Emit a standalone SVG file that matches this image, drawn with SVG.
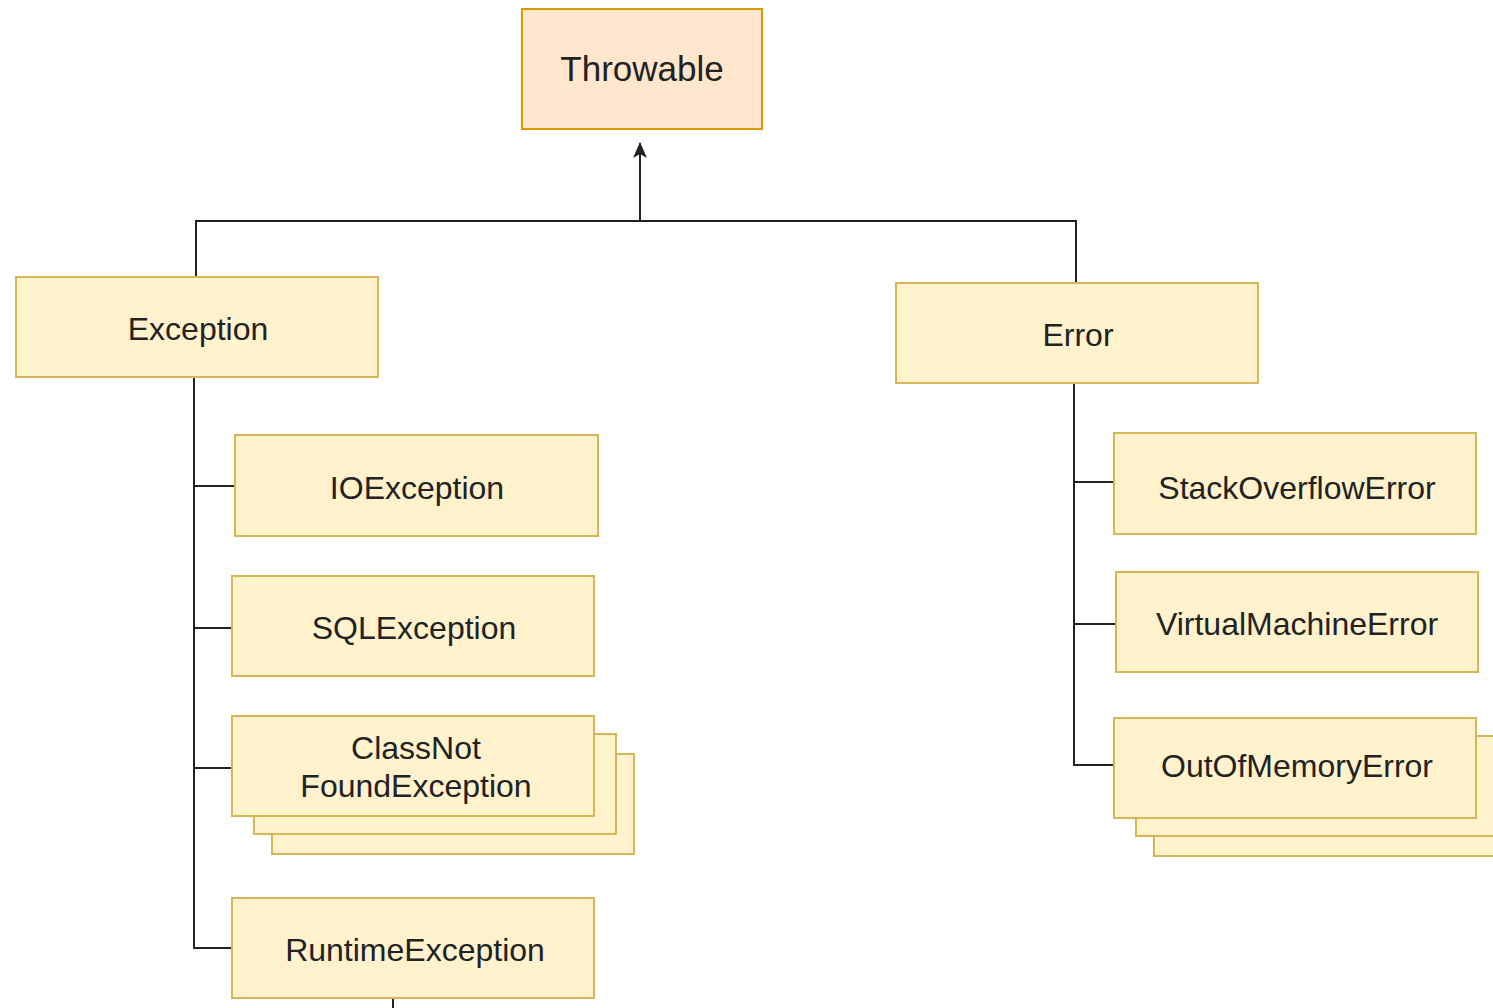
<svg xmlns="http://www.w3.org/2000/svg" width="1493" height="1008" viewBox="0 0 1493 1008">
  <style>
    .box { fill: #fff2cc; stroke: #d6b656; stroke-width: 2; }
    .root { fill: #ffe6cc; stroke: #d79b00; stroke-width: 2; }
    .lbl { font-family: "Liberation Sans", Arial, sans-serif; font-size: 32px; fill: #222; text-anchor: middle; }
    .edge { fill: none; stroke: #222; stroke-width: 2; }
  </style>
  <defs>
    <!-- classic notched arrowhead, sized in user units -->
    <marker id="arrow" viewBox="0 0 16 14" refX="15" refY="7" markerWidth="16" markerHeight="14" markerUnits="userSpaceOnUse" orient="auto">
      <path d="M0,0 L16,7 L0,14 L4,7 Z" fill="#222"/>
    </marker>
  </defs>
  <rect width="1493" height="1008" fill="#ffffff"/>

  <g id="connectors">
    <path class="edge" d="M640,221 V143" marker-end="url(#arrow)"/>
    <path class="edge" d="M196,277 V221 H1076 V283"/>
    <path class="edge" d="M194,377 V948 H232"/>
    <path class="edge" d="M194,486 H235"/>
    <path class="edge" d="M194,628 H232"/>
    <path class="edge" d="M194,768 H232"/>
    <path class="edge" d="M1074,383 V765 H1114"/>
    <path class="edge" d="M1074,482 H1114"/>
    <path class="edge" d="M1074,624 H1116"/>
    <path class="edge" d="M393,998 V1008"/>
  </g>

  <g id="throwable">
    <rect class="root" x="522" y="9" width="240" height="120"/>
    <text class="lbl" x="642" y="81" style="font-size:35px">Throwable</text>
  </g>

  <g id="exception">
    <rect class="box" x="16" y="277" width="362" height="100"/>
    <text class="lbl" x="198" y="340">Exception</text>
  </g>

  <g id="error">
    <rect class="box" x="896" y="283" width="362" height="100"/>
    <text class="lbl" x="1078" y="346">Error</text>
  </g>

  <g id="ioexception">
    <rect class="box" x="235" y="435" width="363" height="101"/>
    <text class="lbl" x="417" y="499">IOException</text>
  </g>

  <g id="sqlexception">
    <rect class="box" x="232" y="576" width="362" height="100"/>
    <text class="lbl" x="414" y="639">SQLException</text>
  </g>

  <g id="classnotfound">
    <rect class="box" x="272" y="754" width="362" height="100"/>
    <rect class="box" x="254" y="734" width="362" height="100"/>
    <rect class="box" x="232" y="716" width="362" height="100"/>
    <text class="lbl" x="416" y="759">ClassNot</text>
    <text class="lbl" x="416" y="797">FoundException</text>
  </g>

  <g id="runtimeexception">
    <rect class="box" x="232" y="898" width="362" height="100"/>
    <text class="lbl" x="415" y="961">RuntimeException</text>
  </g>

  <g id="stackoverflow">
    <rect class="box" x="1114" y="433" width="362" height="101"/>
    <text class="lbl" x="1297" y="499">StackOverflowError</text>
  </g>

  <g id="virtualmachine">
    <rect class="box" x="1116" y="572" width="362" height="100"/>
    <text class="lbl" x="1297" y="635">VirtualMachineError</text>
  </g>

  <g id="outofmemory">
    <rect class="box" x="1154" y="756" width="362" height="100"/>
    <rect class="box" x="1136" y="736" width="362" height="100"/>
    <rect class="box" x="1114" y="718" width="362" height="100"/>
    <text class="lbl" x="1297" y="777">OutOfMemoryError</text>
  </g>
</svg>
